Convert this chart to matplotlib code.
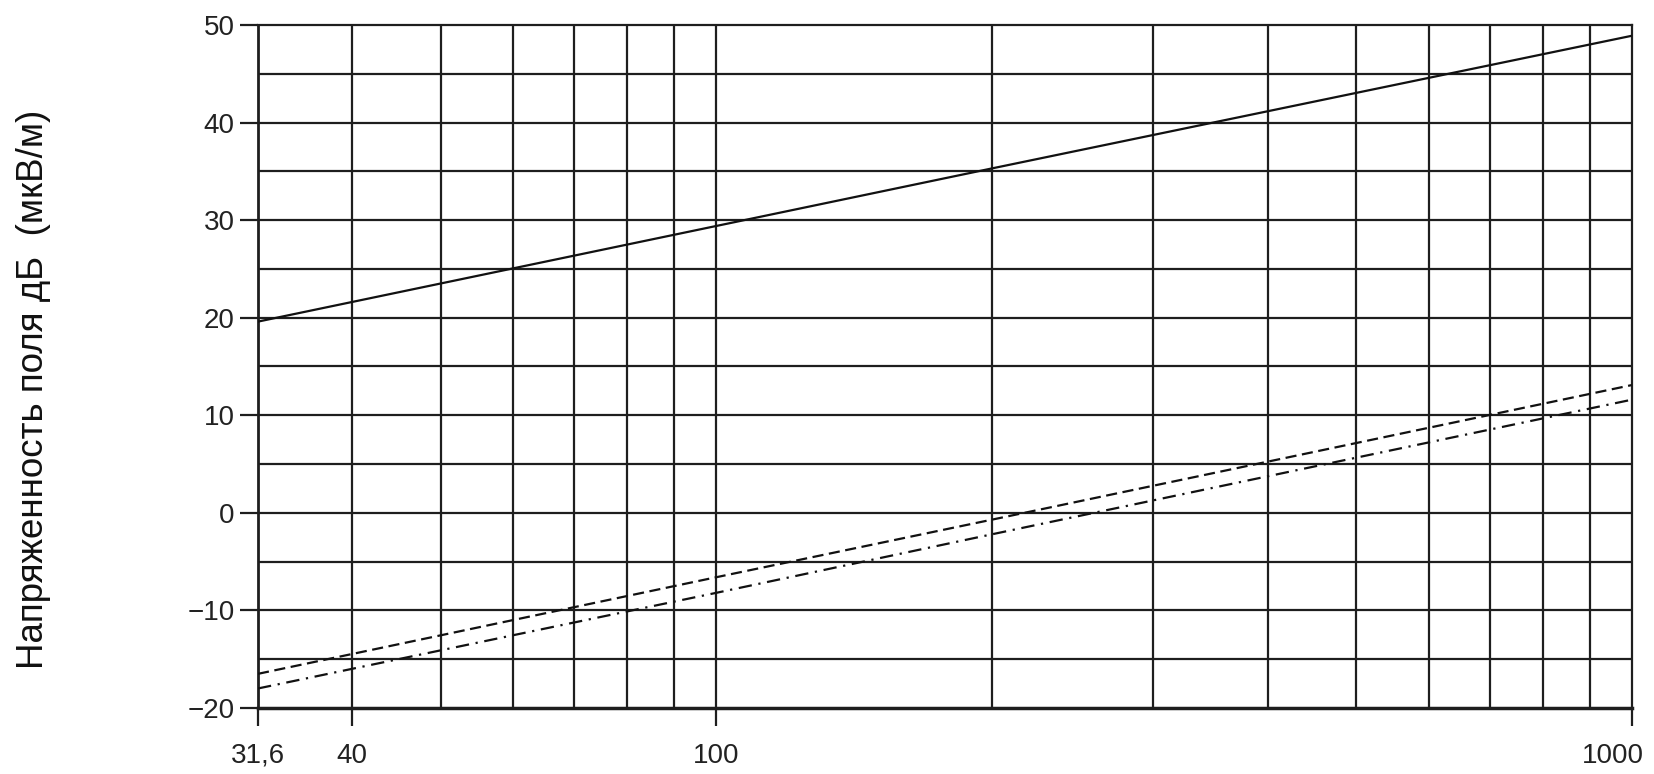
import matplotlib
matplotlib.use("Agg")
import matplotlib.pyplot as plt
import matplotlib.transforms as mtransforms
from matplotlib.ticker import FixedLocator, NullLocator

# Data
freq = [31.6, 100, 200, 1000]
solid_db = [19.6, 29.4, 35.3, 48.9]
dashed_db = [-16.5, -6.6, -0.7, 13.1]
dashdot_db = [-18.0, -8.2, -2.2, 11.6]

x_grid = [40, 50, 60, 70, 80, 90, 100, 200, 300, 400, 500, 600, 700, 800, 900]
y_grid = list(range(-15, 50, 5))
x_ticks = [31.6, 40, 100, 1000]
x_ticklabels = ["31,6", "40", "100", "1000"]
y_ticks = [-20, -10, 0, 10, 20, 30, 40, 50]
y_ticklabels = ["\u221220", "\u221210", "0", "10", "20", "30", "40", "50"]
y_label = "Напряженность поля дБ  (мкВ/м)"

plt.rcParams['font.family'] = ['Liberation Sans', 'DejaVu Sans']

fig = plt.figure(figsize=(16.54, 7.74), dpi=100)
ax = fig.add_axes([0.156, 0.0853, 0.8307, 0.8824])
ax.set_xscale('log')
ax.set_xlim(31.6, 1000)
ax.set_ylim(-20, 50)

gcol = '#1e1e1e'
for xv in x_grid:
    ax.axvline(xv, color=gcol, lw=1.6, zorder=1)
for yv in y_grid:
    ax.axhline(yv, color=gcol, lw=1.6, zorder=1)

ax.plot(freq, solid_db, color='#111111', lw=1.6, ls='-', zorder=3)
ax.plot(freq, dashed_db, color='#111111', lw=1.6, ls=(0, (5, 2.5)), zorder=3)
ax.plot(freq, dashdot_db, color='#111111', lw=1.6, ls=(0, (6, 3, 1, 3)), zorder=3)

for s in ax.spines.values():
    s.set_color(gcol)
    s.set_linewidth(1.6)
ax.spines['bottom'].set_linewidth(2.5)
ax.spines['left'].set_linewidth(2.0)

ax.xaxis.set_major_locator(FixedLocator(x_ticks))
ax.xaxis.set_minor_locator(NullLocator())
ax.set_xticklabels(x_ticklabels)
ax.set_yticks(y_ticks)
ax.set_yticklabels(y_ticklabels)
ax.tick_params(axis='both', which='major', length=13, width=1.6, color=gcol,
               labelsize=20, labelcolor='#222222')
ax.tick_params(axis='y', pad=4)
ax.tick_params(axis='x', pad=12)

# last x label sits left of its tick, as in the reference
last = ax.get_xticklabels()[-1]
last.set_horizontalalignment('right')
last.set_transform(last.get_transform() +
                   mtransforms.ScaledTranslation(12 / 100, 0, fig.dpi_scale_trans))

fig.text(0.020, 0.497, y_label, rotation=90, ha='center', va='center',
         fontsize=26.5, color='#111111')

fig.savefig('out.png', dpi=100, facecolor='white')
